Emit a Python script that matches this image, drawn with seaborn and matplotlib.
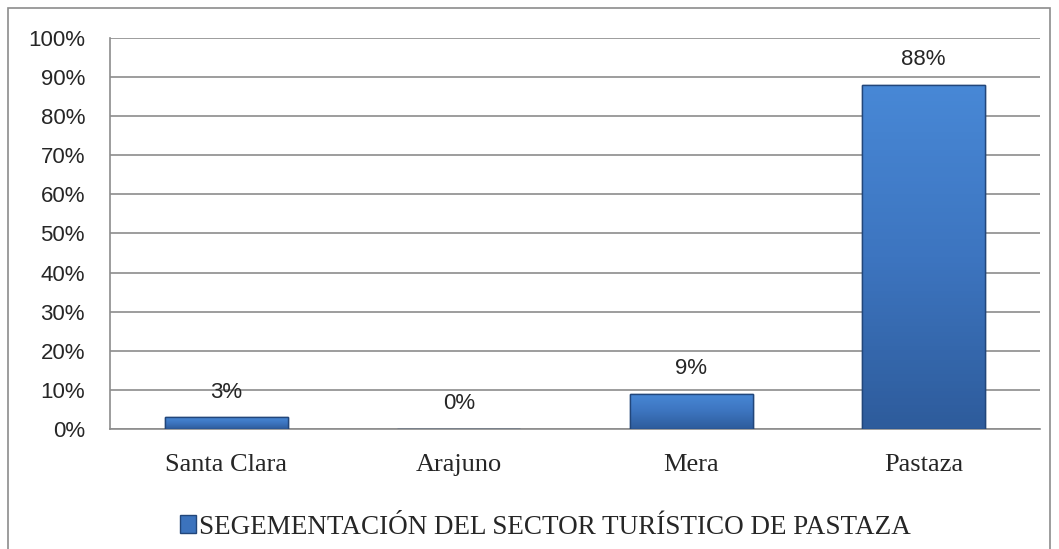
import numpy as np
import matplotlib.pyplot as plt
import seaborn as sns
import pandas as pd
from matplotlib.patches import Rectangle
from matplotlib.colors import LinearSegmentedColormap

# data
places = ["Santa Clara", "Arajuno", "Mera", "Pastaza"]
shares = [3, 0, 9, 88]
y_ticks = [0, 10, 20, 30, 40, 50, 60, 70, 80, 90, 100]
legend_label = "SEGEMENTACIÓN DEL SECTOR TURÍSTICO DE PASTAZA"

df = pd.DataFrame({"place": places, "share": shares})

sns.set_style("white")
plt.rcParams['font.family'] = ['Liberation Sans', 'DejaVu Sans']

fig = plt.figure(figsize=(10.59, 5.49), dpi=100)
ax = fig.add_axes([0.1039, 0.2186, 0.8781, 0.7122])

bar_color = "#3C73BD"
sns.barplot(data=df, x="place", y="share", color=bar_color, width=0.53,
            edgecolor="#22467A", linewidth=1.0, saturation=1, ax=ax, zorder=3)

# vertical gradient on the bars, clipped to each bar
grad = LinearSegmentedColormap.from_list("g", ["#2E5C9C", "#3D75C0", "#4888D6"])
for p in ax.patches:
    if p.get_height() <= 0:
        continue
    x0, y0 = p.get_x(), p.get_y()
    w, h = p.get_width(), p.get_height()
    img = ax.imshow(np.linspace(0, 1, 100).reshape(-1, 1), cmap=grad, origin="lower",
                    extent=[x0, x0 + w, y0, y0 + h], aspect="auto", zorder=3.5)
    img.set_clip_path(p)
    ax.add_patch(Rectangle((x0, y0), w, h, fill=False, edgecolor="#22467A",
                           linewidth=1.0, zorder=4))

ax.set_ylim(0, 100)
ax.set_xlim(-0.5, 3.5)
ax.set_yticks(y_ticks)
ax.set_yticklabels([str(t) + "%" for t in y_ticks], fontsize=16)
ax.yaxis.grid(True, color="#8c8c8c", linewidth=1.2, zorder=0)
ax.set_axisbelow(True)

ax.set_xticks(range(len(places)))
ax.set_xticklabels(places, family="Liberation Serif", fontsize=19)
ax.tick_params(axis="x", which="major", length=0, pad=18)
ax.set_xticks([-0.5, 0.5, 1.5, 2.5, 3.5], minor=True)
ax.tick_params(axis="x", which="minor", length=7, color="#8c8c8c", width=1.2, direction="out")
ax.tick_params(axis="y", length=7, color="#8c8c8c", width=1.2, direction="out", pad=11)

for side in ["top", "right"]:
    ax.spines[side].set_visible(False)
for side in ["left", "bottom"]:
    ax.spines[side].set_color("#8c8c8c")
    ax.spines[side].set_linewidth(1.2)

ax.set_xlabel("")
ax.set_ylabel("")

for i, v in enumerate(shares):
    ax.annotate(str(v) + "%", (i, v), xytext=(0, 18), textcoords="offset points",
                ha="center", va="center", fontsize=16)

# legend
handle = Rectangle((0, 0), 1, 1, facecolor=bar_color, edgecolor="#22467A")
fig.legend([handle], [legend_label], loc="center", bbox_to_anchor=(0.515, 0.04),
           frameon=False, prop={"family": "Liberation Serif", "size": 19.5},
           handlelength=0.6, handleheight=0.6, handletextpad=0.1)

# outer chart frame
fig.patches.append(Rectangle((8 / 1059, -0.1), 1042 / 1059, 1.1 - 8 / 549,
                             transform=fig.transFigure, fill=False,
                             edgecolor="#8c8c8c", linewidth=1.2))

fig.savefig("out.png", dpi=100)
